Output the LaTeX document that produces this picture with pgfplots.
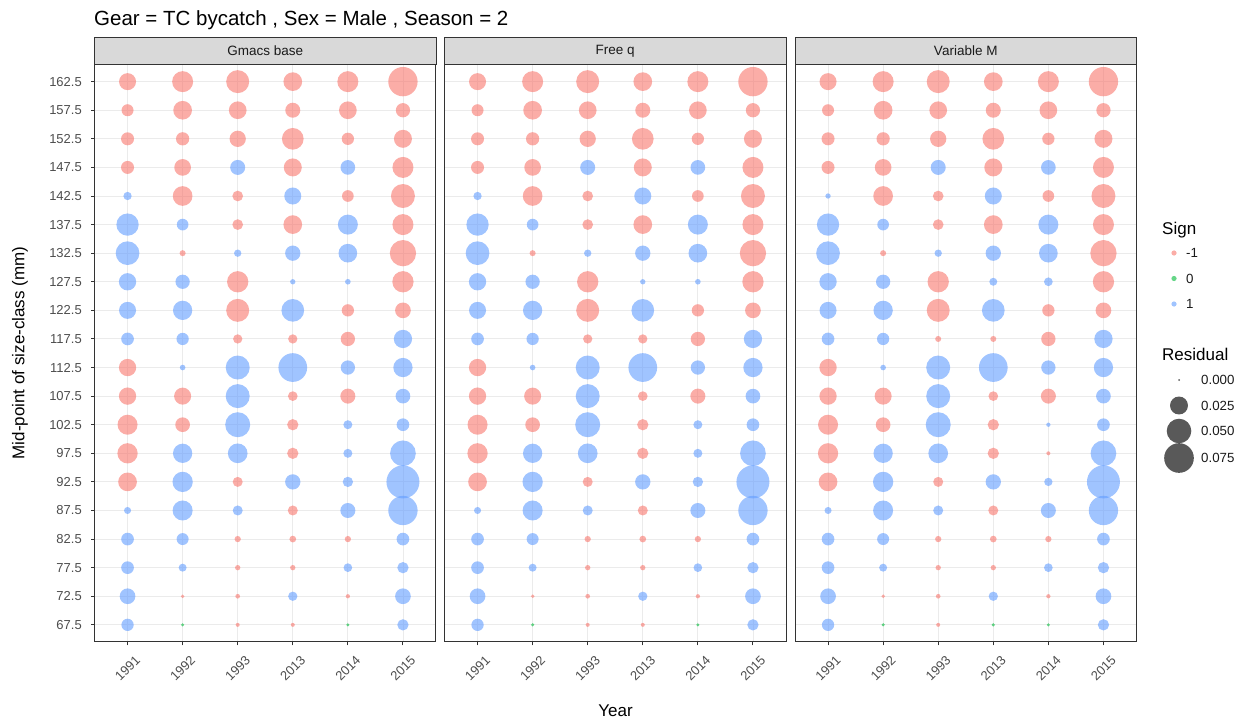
\documentclass[border=0pt]{standalone}
\usepackage{pgfplots}
\pgfplotsset{compat=1.18}
\usepackage{pgfplotstable}
\usepackage{fontspec}
\setmainfont{Liberation Sans}
\definecolor{cred}{RGB}{248,118,109}
\definecolor{cgreen}{RGB}{0,186,56}
\definecolor{cblue}{RGB}{97,156,255}
\definecolor{gridc}{RGB}{235,235,235}
\definecolor{framec}{RGB}{51,51,51}
\definecolor{stripc}{RGB}{217,217,217}
\definecolor{ticklab}{RGB}{77,77,77}
\definecolor{striptext}{RGB}{26,26,26}

% yr: 0=1991 1=1992 2=1993 3=2013 4=2014 5=2015 ; sgn: -1, 0, 1
\pgfplotstableread{
yr cls res sgn
0 162.5 0.0221 -1
1 162.5 0.0354 -1
2 162.5 0.0432 -1
3 162.5 0.0273 -1
4 162.5 0.0354 -1
5 162.5 0.0731 -1
0 157.5 0.0098 -1
1 157.5 0.0273 -1
2 157.5 0.0242 -1
3 157.5 0.0166 -1
4 157.5 0.0242 -1
5 157.5 0.0148 -1
0 152.5 0.0119 -1
1 152.5 0.0125 -1
2 152.5 0.0200 -1
3 152.5 0.0380 -1
4 152.5 0.0104 -1
5 152.5 0.0251 -1
0 147.5 0.0119 -1
1 147.5 0.0212 -1
2 147.5 0.0166 1
3 147.5 0.0251 -1
4 147.5 0.0158 1
5 147.5 0.0354 -1
0 142.5 0.0039 1
1 142.5 0.0307 -1
2 142.5 0.0074 -1
3 142.5 0.0221 1
4 142.5 0.0092 -1
5 142.5 0.0474 -1
0 137.5 0.0404 1
1 137.5 0.0092 1
2 137.5 0.0074 -1
3 137.5 0.0273 -1
4 137.5 0.0318 1
5 137.5 0.0354 -1
0 132.5 0.0462 1
1 132.5 0.0016 -1
2 132.5 0.0028 1
3 132.5 0.0173 1
4 132.5 0.0273 1
5 132.5 0.0579 -1
0 127.5 0.0230 1
1 127.5 0.0148 1
2 127.5 0.0365 -1
3 127.5 0.0011 1
4 127.5 0.0013 1
5 127.5 0.0365 -1
0 122.5 0.0221 1
1 122.5 0.0293 1
2 122.5 0.0432 -1
3 122.5 0.0420 1
4 122.5 0.0104 -1
5 122.5 0.0184 -1
0 117.5 0.0112 1
1 117.5 0.0104 1
2 117.5 0.0052 -1
3 117.5 0.0052 -1
4 117.5 0.0148 -1
5 117.5 0.0260 1
0 112.5 0.0230 -1
1 112.5 0.0013 1
2 112.5 0.0474 1
3 112.5 0.0699 1
4 112.5 0.0148 1
5 112.5 0.0293 1
0 107.5 0.0230 -1
1 107.5 0.0221 -1
2 107.5 0.0474 1
3 107.5 0.0058 -1
4 107.5 0.0166 -1
5 107.5 0.0158 1
0 102.5 0.0318 -1
1 102.5 0.0158 -1
2 102.5 0.0519 1
3 102.5 0.0085 -1
4 102.5 0.0048 1
5 102.5 0.0112 1
0 97.5 0.0328 -1
1 97.5 0.0293 1
2 97.5 0.0307 1
3 97.5 0.0085 -1
4 97.5 0.0048 1
5 97.5 0.0551 1
0 92.5 0.0273 -1
1 92.5 0.0328 1
2 92.5 0.0063 -1
3 92.5 0.0173 1
4 92.5 0.0068 1
5 92.5 0.0942 1
0 87.5 0.0025 1
1 87.5 0.0318 1
2 87.5 0.0063 1
3 87.5 0.0063 -1
4 87.5 0.0166 1
5 87.5 0.0731 1
0 82.5 0.0112 1
1 82.5 0.0098 1
2 82.5 0.0018 -1
3 82.5 0.0022 -1
4 82.5 0.0018 -1
5 82.5 0.0112 1
0 77.5 0.0112 1
1 77.5 0.0035 1
2 77.5 0.0011 -1
3 77.5 0.0011 -1
4 77.5 0.0044 1
5 77.5 0.0085 1
0 72.5 0.0184 1
1 72.5 0.0003 -1
2 72.5 0.0007 -1
3 72.5 0.0052 1
4 72.5 0.0005 -1
5 72.5 0.0184 1
0 67.5 0.0104 1
1 67.5 0.0002 0
2 67.5 0.0004 -1
3 67.5 0.0004 -1
4 67.5 0.0002 0
5 67.5 0.0085 1
}\tblbase

\pgfplotstableread{
yr cls res sgn
0 162.5 0.0221 -1
1 162.5 0.0354 -1
2 162.5 0.0432 -1
3 162.5 0.0273 -1
4 162.5 0.0354 -1
5 162.5 0.0731 -1
0 157.5 0.0098 -1
1 157.5 0.0273 -1
2 157.5 0.0242 -1
3 157.5 0.0166 -1
4 157.5 0.0242 -1
5 157.5 0.0148 -1
0 152.5 0.0119 -1
1 152.5 0.0125 -1
2 152.5 0.0200 -1
3 152.5 0.0380 -1
4 152.5 0.0104 -1
5 152.5 0.0251 -1
0 147.5 0.0119 -1
1 147.5 0.0212 -1
2 147.5 0.0166 1
3 147.5 0.0251 -1
4 147.5 0.0158 1
5 147.5 0.0354 -1
0 142.5 0.0039 1
1 142.5 0.0307 -1
2 142.5 0.0074 -1
3 142.5 0.0221 1
4 142.5 0.0092 -1
5 142.5 0.0474 -1
0 137.5 0.0404 1
1 137.5 0.0092 1
2 137.5 0.0074 -1
3 137.5 0.0273 -1
4 137.5 0.0318 1
5 137.5 0.0354 -1
0 132.5 0.0462 1
1 132.5 0.0016 -1
2 132.5 0.0028 1
3 132.5 0.0173 1
4 132.5 0.0273 1
5 132.5 0.0579 -1
0 127.5 0.0230 1
1 127.5 0.0148 1
2 127.5 0.0365 -1
3 127.5 0.0011 1
4 127.5 0.0013 1
5 127.5 0.0365 -1
0 122.5 0.0221 1
1 122.5 0.0293 1
2 122.5 0.0432 -1
3 122.5 0.0420 1
4 122.5 0.0104 -1
5 122.5 0.0184 -1
0 117.5 0.0112 1
1 117.5 0.0104 1
2 117.5 0.0052 -1
3 117.5 0.0052 -1
4 117.5 0.0148 -1
5 117.5 0.0260 1
0 112.5 0.0230 -1
1 112.5 0.0013 1
2 112.5 0.0474 1
3 112.5 0.0699 1
4 112.5 0.0148 1
5 112.5 0.0293 1
0 107.5 0.0230 -1
1 107.5 0.0221 -1
2 107.5 0.0474 1
3 107.5 0.0058 -1
4 107.5 0.0166 -1
5 107.5 0.0158 1
0 102.5 0.0318 -1
1 102.5 0.0158 -1
2 102.5 0.0519 1
3 102.5 0.0085 -1
4 102.5 0.0048 1
5 102.5 0.0112 1
0 97.5 0.0328 -1
1 97.5 0.0293 1
2 97.5 0.0307 1
3 97.5 0.0085 -1
4 97.5 0.0048 1
5 97.5 0.0551 1
0 92.5 0.0273 -1
1 92.5 0.0328 1
2 92.5 0.0063 -1
3 92.5 0.0173 1
4 92.5 0.0068 1
5 92.5 0.0942 1
0 87.5 0.0025 1
1 87.5 0.0318 1
2 87.5 0.0063 1
3 87.5 0.0063 -1
4 87.5 0.0166 1
5 87.5 0.0731 1
0 82.5 0.0112 1
1 82.5 0.0098 1
2 82.5 0.0018 -1
3 82.5 0.0022 -1
4 82.5 0.0018 -1
5 82.5 0.0112 1
0 77.5 0.0112 1
1 77.5 0.0035 1
2 77.5 0.0011 -1
3 77.5 0.0011 -1
4 77.5 0.0044 1
5 77.5 0.0085 1
0 72.5 0.0184 1
1 72.5 0.0003 -1
2 72.5 0.0007 -1
3 72.5 0.0052 1
4 72.5 0.0005 -1
5 72.5 0.0184 1
0 67.5 0.0104 1
1 67.5 0.0002 0
2 67.5 0.0004 -1
3 67.5 0.0004 -1
4 67.5 0.0002 0
5 67.5 0.0085 1
}\tblfreeq

\pgfplotstableread{
yr cls res sgn
0 162.5 0.0221 -1
1 162.5 0.0354 -1
2 162.5 0.0432 -1
3 162.5 0.0273 -1
4 162.5 0.0354 -1
5 162.5 0.0731 -1
0 157.5 0.0098 -1
1 157.5 0.0273 -1
2 157.5 0.0242 -1
3 157.5 0.0166 -1
4 157.5 0.0242 -1
5 157.5 0.0148 -1
0 152.5 0.0119 -1
1 152.5 0.0125 -1
2 152.5 0.0200 -1
3 152.5 0.0380 -1
4 152.5 0.0104 -1
5 152.5 0.0251 -1
0 147.5 0.0119 -1
1 147.5 0.0212 -1
2 147.5 0.0166 1
3 147.5 0.0251 -1
4 147.5 0.0158 1
5 147.5 0.0354 -1
0 142.5 0.0011 1
1 142.5 0.0307 -1
2 142.5 0.0074 -1
3 142.5 0.0221 1
4 142.5 0.0092 -1
5 142.5 0.0474 -1
0 137.5 0.0404 1
1 137.5 0.0092 1
2 137.5 0.0074 -1
3 137.5 0.0273 -1
4 137.5 0.0318 1
5 137.5 0.0354 -1
0 132.5 0.0462 1
1 132.5 0.0016 -1
2 132.5 0.0028 1
3 132.5 0.0173 1
4 132.5 0.0273 1
5 132.5 0.0579 -1
0 127.5 0.0230 1
1 127.5 0.0148 1
2 127.5 0.0365 -1
3 127.5 0.0035 1
4 127.5 0.0044 1
5 127.5 0.0365 -1
0 122.5 0.0221 1
1 122.5 0.0293 1
2 122.5 0.0432 -1
3 122.5 0.0420 1
4 122.5 0.0104 -1
5 122.5 0.0184 -1
0 117.5 0.0112 1
1 117.5 0.0104 1
2 117.5 0.0016 -1
3 117.5 0.0016 -1
4 117.5 0.0148 -1
5 117.5 0.0260 1
0 112.5 0.0230 -1
1 112.5 0.0013 1
2 112.5 0.0474 1
3 112.5 0.0699 1
4 112.5 0.0148 1
5 112.5 0.0293 1
0 107.5 0.0230 -1
1 107.5 0.0221 -1
2 107.5 0.0474 1
3 107.5 0.0058 -1
4 107.5 0.0166 -1
5 107.5 0.0158 1
0 102.5 0.0318 -1
1 102.5 0.0158 -1
2 102.5 0.0519 1
3 102.5 0.0085 -1
4 102.5 0.0005 1
5 102.5 0.0112 1
0 97.5 0.0328 -1
1 97.5 0.0293 1
2 97.5 0.0307 1
3 97.5 0.0085 -1
4 97.5 0.0004 -1
5 97.5 0.0551 1
0 92.5 0.0273 -1
1 92.5 0.0328 1
2 92.5 0.0063 -1
3 92.5 0.0173 1
4 92.5 0.0039 1
5 92.5 0.0942 1
0 87.5 0.0025 1
1 87.5 0.0318 1
2 87.5 0.0063 1
3 87.5 0.0063 -1
4 87.5 0.0166 1
5 87.5 0.0731 1
0 82.5 0.0112 1
1 82.5 0.0098 1
2 82.5 0.0018 -1
3 82.5 0.0022 -1
4 82.5 0.0018 -1
5 82.5 0.0112 1
0 77.5 0.0112 1
1 77.5 0.0035 1
2 77.5 0.0011 -1
3 77.5 0.0011 -1
4 77.5 0.0044 1
5 77.5 0.0085 1
0 72.5 0.0184 1
1 72.5 0.0003 -1
2 72.5 0.0007 -1
3 72.5 0.0052 1
4 72.5 0.0005 -1
5 72.5 0.0184 1
0 67.5 0.0104 1
1 67.5 0.0002 0
2 67.5 0.0004 -1
3 67.5 0.0002 0
4 67.5 0.0002 0
5 67.5 0.0085 1
}\tblvarm

% legend keys (positions in picture pixels, y downward)
\pgfplotstableread{
x y res
1179 380 0.000
1179 405.5 0.025
1179 431 0.050
1179 458 0.075
}\tblsizekey

\pgfplotsset{
 panel/.style={
  scale only axis, width=341.5pt, height=577.5pt, anchor=south west,
  xmin=-0.6, xmax=5.6, ymin=64.5, ymax=165.5,
  xtick={0,1,2,3,4,5}, xticklabels={1991,1992,1993,2013,2014,2015},
  ytick={67.5,72.5,77.5,82.5,87.5,92.5,97.5,102.5,107.5,112.5,117.5,122.5,127.5,132.5,137.5,142.5,147.5,152.5,157.5,162.5},
  xtick pos=bottom, ytick pos=left,
  grid=major, major grid style={draw=gridc, line width=0.9pt},
  axis line style={draw=framec, line width=1pt},
  tick align=outside, major tick length=3.5pt,
  every tick/.style={draw=framec, line width=1pt},
  /pgf/number format/.cd, fixed, fixed zerofill, precision=1, assume math mode=true, /pgfplots/.cd,
  xticklabel style={font=\fontsize{13}{15}\selectfont, text=ticklab, yshift=-23pt, rotate=45, anchor=center},
  yticklabel style={font=\fontsize{13}{15}\selectfont, text=ticklab, anchor=east, inner sep=0pt, xshift=-9pt},
  colormap={sgn}{rgb255=(248,118,109) rgb255=(0,186,56) rgb255=(97,156,255)},
  point meta min=-1, point meta max=1,
 },
 bub/.style={scatter, only marks, mark=*, scatter src=explicit,
   scatter/use mapped color={draw=mapped color, draw opacity=0, fill=mapped color, fill opacity=0.6},
   visualization depends on={1+50.5*sqrt(\thisrow{res}) \as \msz},
   scatter/@pre marker code/.append style={/tikz/mark size=\msz}},
}

\begin{document}
\begin{tikzpicture}
% overlay axis in picture pixel coordinates (y downward)
\begin{axis}[hide axis, scale only axis, width=1245pt, height=725pt, at={(0pt,0pt)}, anchor=south west,
  xmin=0, xmax=1245, ymin=0, ymax=725, y dir=reverse, clip=false]
  \node[anchor=base west, inner sep=0pt, font=\fontsize{20.5}{24}\selectfont] at (94,26) {Gear = TC bycatch , Sex = Male , Season = 2};
  \draw[fill=stripc, draw=framec, line width=1pt] (94.5,37.5) rectangle (436,64.5);
  \draw[fill=stripc, draw=framec, line width=1pt] (444.5,37.5) rectangle (786,64.5);
  \draw[fill=stripc, draw=framec, line width=1pt] (795,37.5) rectangle (1136.5,64.5);
  \node[font=\fontsize{13.5}{15}\selectfont, text=striptext] at (265.25,51) {Gmacs base};
  \node[font=\fontsize{13.5}{15}\selectfont, text=striptext] at (615.25,51) {Free q};
  \node[font=\fontsize{13.5}{15}\selectfont, text=striptext] at (965.75,51) {Variable M};
  \node[font=\fontsize{17}{20}\selectfont] at (615.5,711) {Year};
  \node[font=\fontsize{17}{20}\selectfont, rotate=90] at (20,353) {Mid-point of size-class (mm)};
  % legend: Sign
  \node[anchor=west, inner sep=0pt, font=\fontsize{17}{20}\selectfont] at (1162,230) {Sign};
  \addplot[only marks, mark=*, mark size=2.6pt, mark options={draw opacity=0, fill=cred, fill opacity=0.6}] coordinates {(1174,253)};
  \addplot[only marks, mark=*, mark size=2.6pt, mark options={draw opacity=0, fill=cgreen, fill opacity=0.6}] coordinates {(1174,278.5)};
  \addplot[only marks, mark=*, mark size=2.6pt, mark options={draw opacity=0, fill=cblue, fill opacity=0.6}] coordinates {(1174,304)};
  \node[anchor=west, inner sep=0pt, font=\fontsize{13.3}{15}\selectfont, text=striptext] at (1186,253) {-1};
  \node[anchor=west, inner sep=0pt, font=\fontsize{13.3}{15}\selectfont, text=striptext] at (1186,278.5) {0};
  \node[anchor=west, inner sep=0pt, font=\fontsize{13.3}{15}\selectfont, text=striptext] at (1186,304) {1};
  % legend: Residual
  \node[anchor=west, inner sep=0pt, font=\fontsize{17}{20}\selectfont] at (1162,354) {Residual};
  \addplot[scatter, only marks, mark=*, scatter src=y,
    scatter/use mapped color={draw=black, draw opacity=0, fill=black, fill opacity=0.65},
    visualization depends on={1+50.5*sqrt(\thisrow{res}) \as \msz},
    scatter/@pre marker code/.append style={/tikz/mark size=\msz}] table[x=x, y=y] {\tblsizekey};
  \node[anchor=west, inner sep=0pt, font=\fontsize{13.3}{15}\selectfont, text=striptext] at (1201,380) {0.000};
  \node[anchor=west, inner sep=0pt, font=\fontsize{13.3}{15}\selectfont, text=striptext] at (1201,405.5) {0.025};
  \node[anchor=west, inner sep=0pt, font=\fontsize{13.3}{15}\selectfont, text=striptext] at (1201,431) {0.050};
  \node[anchor=west, inner sep=0pt, font=\fontsize{13.3}{15}\selectfont, text=striptext] at (1201,458) {0.075};
\end{axis}

\begin{axis}[panel, at={(94.5pt,83pt)}]
  \addplot[bub] table[x=yr, y=cls, meta=sgn] {\tblbase};
\end{axis}
\begin{axis}[panel, at={(444.5pt,83pt)}, yticklabels={}, ytick style={draw=none}]
  \addplot[bub] table[x=yr, y=cls, meta=sgn] {\tblfreeq};
\end{axis}
\begin{axis}[panel, at={(795pt,83pt)}, yticklabels={}, ytick style={draw=none}]
  \addplot[bub] table[x=yr, y=cls, meta=sgn] {\tblvarm};
\end{axis}
\pgfresetboundingbox
\path[use as bounding box] (0,0) rectangle (1245pt,725pt);
\end{tikzpicture}
\end{document}
